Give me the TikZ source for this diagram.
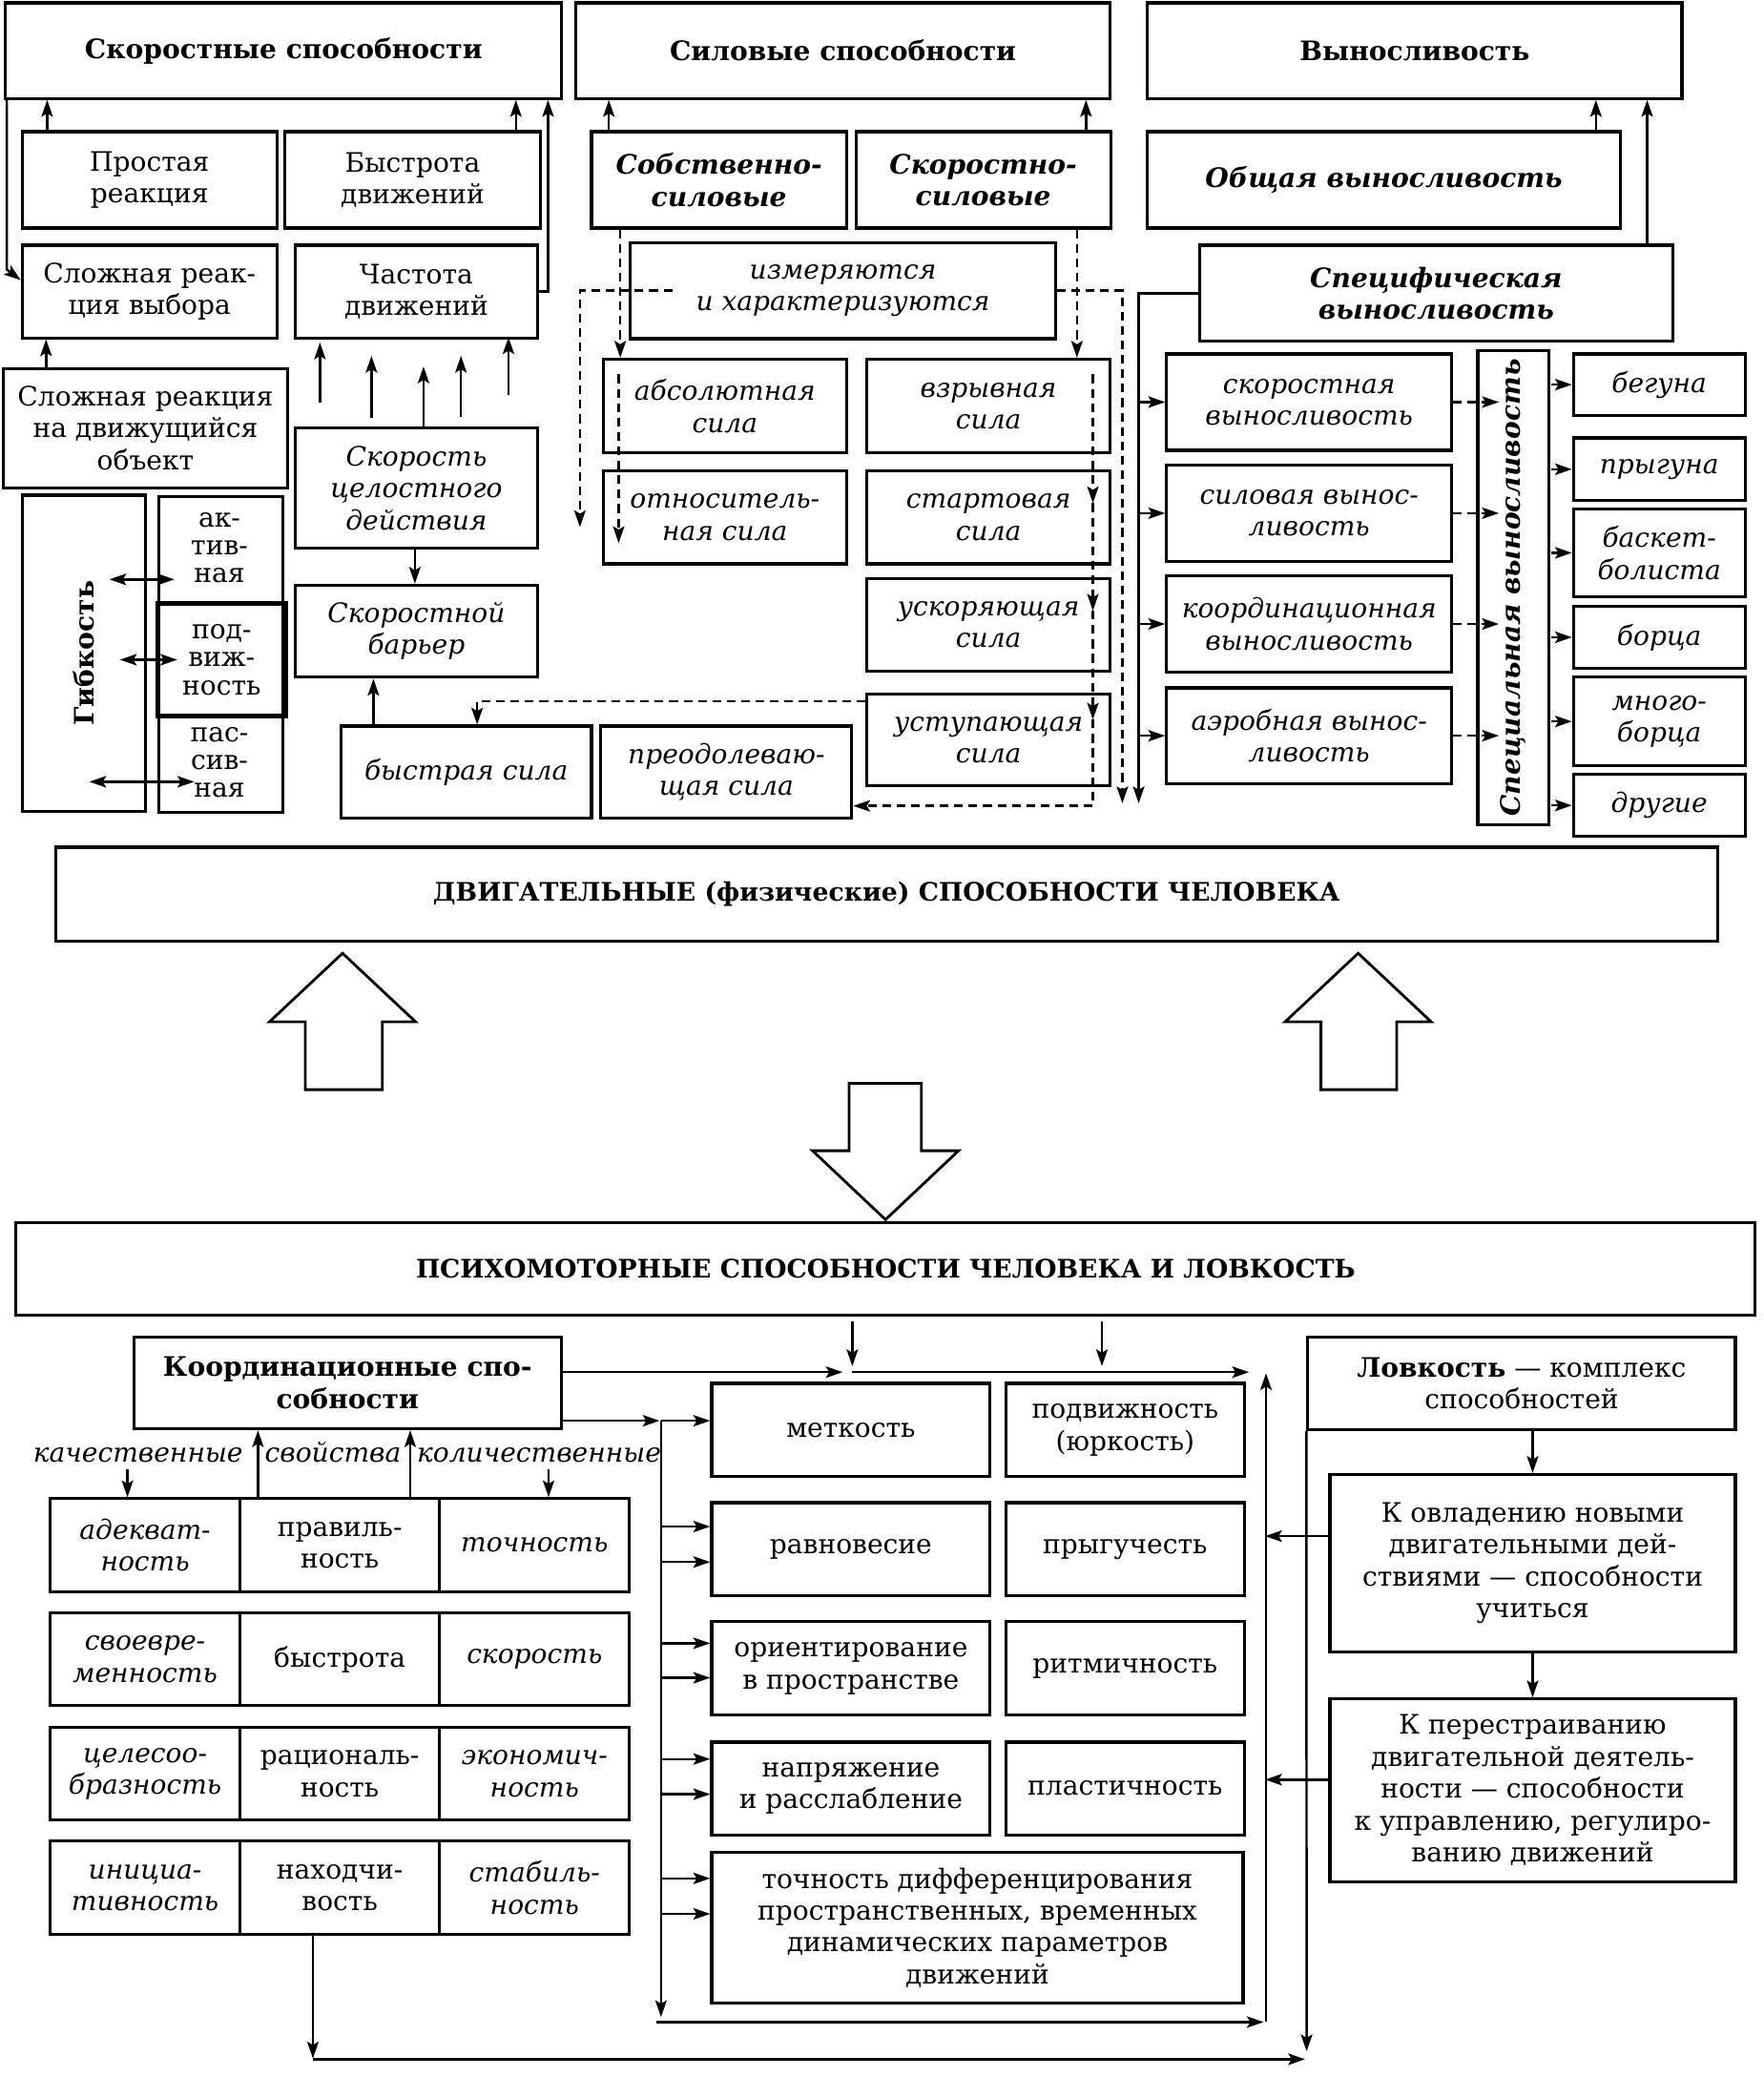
\documentclass[tikz,border=0pt]{standalone}
\usepackage{fontspec}
\setmainfont{DejaVu Serif}
\usetikzlibrary{arrows.meta}
\newlength{\px}
\setlength{\px}{0.013916cm}
\tikzset{
  >={Stealth[length=5pt,width=3.4pt,inset=1pt]},
  box/.style={draw, line width=0.9pt, inner sep=1pt, align=center, anchor=north west},
  con/.style={line width=0.7pt, ->},
  dcon/.style={con, dash pattern=on 2.6pt off 1.7pt},
  it/.style={font=\itshape},
  bf/.style={font=\bfseries},
  bi/.style={font=\bfseries\itshape},
  tight/.style={font=\fontsize{8}{8.3}\selectfont},
  caps/.style={font=\fontsize{7.6}{8.5}\selectfont\bfseries}
}
\begin{document}
\fontsize{8}{9.5}\selectfont
\begin{tikzpicture}[x=0.013916cm, y=-0.013916cm]
\useasboundingbox (0,0) rectangle (1328,1564.4);

\node[box, bf, minimum width=419\px, minimum height=72\px] (skor) at (3,1) {Скоростные способности};
\node[box, bf, minimum width=402.6\px, minimum height=72\px] (silov) at (432.5,1) {Силовые способности};
\node[box, bf, minimum width=402.6\px, minimum height=72\px] (vynos) at (863.2,1) {Выносливость};

\node[box, minimum width=191.8\px, minimum height=72.6\px] (prost) at (15.6,98) {Простая\\реакция};
\node[box, minimum width=192.1\px, minimum height=72.6\px] (bystr) at (213.6,98) {Быстрота\\движений};
\node[box, bi, minimum width=192.1\px, minimum height=72.6\px] (sobstv) at (444.4,98) {Собственно-\\силовые};
\node[box, bi, minimum width=191.8\px, minimum height=72.6\px] (skorsil) at (643.6,98) {Скоростно-\\силовые};
\node[box, bi, minimum width=356.1\px, minimum height=72.6\px] (obsh) at (863.2,98) {Общая выносливость};

\node[box, minimum width=191.8\px, minimum height=69.8\px] (vybor) at (15.6,183.5) {Сложная реак-\\ция выбора};
\node[box, minimum width=183\px, minimum height=69.8\px] (chast) at (221,183.5) {Частота\\движений};
\node[box, it, minimum width=320.2\px, minimum height=72.5\px] (izm) at (473.7,181.5) {измеряются\\и характеризуются};
\node[box, bi, minimum width=356.4\px, minimum height=72.5\px] (specif) at (902.4,183.5) {Специфическая\\выносливость};

\node[box, minimum width=214\px, minimum height=89.9\px] (dvizh) at (1.4,276.3) {Сложная реакция\\на движущийся\\объект};
\node[box, it, minimum width=183\px, minimum height=90\px] (celost) at (221,321.4) {Скорость\\целостного\\действия};
\node[box, it, minimum width=183\px, minimum height=69.4\px] (barier) at (221,439.6) {Скоростной\\барьер};
\node[box, it, minimum width=188.7\px, minimum height=69.3\px] (bystrsila) at (255.7,545.7) {быстрая сила};
\node[box, it, minimum width=189\px, minimum height=69.3\px] (preod) at (451.5,545.7) {преодолеваю-\\щая сила};

\node[box, it, minimum width=183.3\px, minimum height=70.6\px] (absol) at (453.2,269.4) {абсолютная\\сила};
\node[box, it, minimum width=183.3\px, minimum height=69.8\px] (otnos) at (453.2,353.7) {относитель-\\ная сила};
\node[box, it, minimum width=183.3\px, minimum height=70.6\px] (vzryv) at (651.8,269.4) {взрывная\\сила};
\node[box, it, minimum width=183.3\px, minimum height=69.8\px] (start) at (651.8,353.7) {стартовая\\сила};
\node[box, it, minimum width=183.3\px, minimum height=69.3\px] (uskor) at (651.8,434.8) {ускоряющая\\сила};
\node[box, it, minimum width=183.3\px, minimum height=69.3\px] (ustup) at (651.8,521.5) {уступающая\\сила};

\node[box, bf, anchor=center, rotate=90, minimum width=238\px, minimum height=92.4\px] (gib) at (63.2,492) {Гибкость};
\node[box, minimum width=92.9\px, minimum height=238\px] (gcol) at (118.8,373) {};
\node[tight, align=center] (aktiv) at (165.3,412.7) {ак-\\тив-\\ная};
\node[box, tight, line width=1.5pt, minimum width=96\px, minimum height=85.1\px] (podv) at (117,452.5) {под-\\виж-\\ность};
\node[tight, align=center] (passiv) at (165.3,574.3) {пас-\\сив-\\ная};

\node[box, it, minimum width=214.7\px, minimum height=72.6\px] (skorv) at (877.6,265.4) {скоростная\\выносливость};
\node[box, it, minimum width=214.7\px, minimum height=72.2\px] (silv) at (877.6,349.3) {силовая вынос-\\ливость};
\node[box, it, minimum width=214.7\px, minimum height=72.3\px] (koorv) at (877.6,432.7) {координационная\\выносливость};
\node[box, it, minimum width=214.7\px, minimum height=72\px] (aerv) at (877.6,517) {аэробная вынос-\\ливость};
\node[box, bi, anchor=center, rotate=90, minimum width=356.8\px, minimum height=53.3\px] (specl) at (1139.7,442.6) {Специальная выносливость};

\node[box, it, minimum width=129.3\px, minimum height=46.3\px] (beg) at (1184,265.4) {бегуна};
\node[box, it, minimum width=129.3\px, minimum height=47.2\px] (pryg) at (1184,328.7) {прыгуна};
\node[box, it, minimum width=129.3\px, minimum height=66.5\px] (bask) at (1184,382) {баскет-\\болиста};
\node[box, it, minimum width=129.3\px, minimum height=46.3\px] (borc) at (1184,455.7) {борца};
\node[box, it, minimum width=129.3\px, minimum height=66.5\px] (mnog) at (1184,509) {много-\\борца};
\node[box, it, minimum width=129.3\px, minimum height=47\px] (drug) at (1184,582) {другие};

\node[box, caps, minimum width=1252\px, minimum height=71\px] (dvig) at (40.7,637) {ДВИГАТЕЛЬНЫЕ (физические) СПОСОБНОСТИ ЧЕЛОВЕКА};
\node[box, caps, minimum width=1310\px, minimum height=70\px] (psych) at (11,919.5) {ПСИХОМОТОРНЫЕ СПОСОБНОСТИ ЧЕЛОВЕКА И ЛОВКОСТЬ};

\draw[line width=0.8pt] (258,718) -- (313,769.6) -- (288,769.6) -- (288,820.7) -- (230,820.7) -- (230,769.6) -- (203,769.6) -- cycle;
\draw[line width=0.8pt] (1023,718) -- (1078,769.6) -- (1052,769.6) -- (1052,820.7) -- (995,820.7) -- (995,769.6) -- (968,769.6) -- cycle;
\draw[line width=0.8pt] (667,918.6) -- (722,866.7) -- (694,866.7) -- (694,816) -- (639.5,816) -- (639.5,866.7) -- (612,866.7) -- cycle;

\node[box, bf, minimum width=321.9\px, minimum height=69\px] (koord) at (99.7,1006) {Координационные спо-\\собности};
\node[it, anchor=base] (kach) at (104,1101) {качественные};
\node[it, anchor=base] (svoi) at (250.8,1101) {свойства};
\node[it, anchor=base] (kolich) at (406,1101) {количественные};

\node[box, it, minimum width=142.9\px, minimum height=70\px] (t11) at (36.7,1127.7) {адекват-\\ность};
\node[box, minimum width=150.4\px, minimum height=70\px] (t12) at (179.6,1127.7) {правиль-\\ность};
\node[box, it, minimum width=143\px, minimum height=70\px] (t13) at (330,1127.7) {точность};
\node[box, it, minimum width=142.9\px, minimum height=69.8\px] (t21) at (36.7,1213.8) {своевре-\\менность};
\node[box, minimum width=150.4\px, minimum height=69.8\px] (t22) at (179.6,1213.8) {быстрота};
\node[box, it, minimum width=143\px, minimum height=69.8\px] (t23) at (330,1213.8) {скорость};
\node[box, it, minimum width=142.9\px, minimum height=69.7\px] (t31) at (36.7,1300) {целесоо-\\бразность};
\node[box, minimum width=150.4\px, minimum height=69.7\px] (t32) at (179.6,1300) {рациональ-\\ность};
\node[box, it, minimum width=143\px, minimum height=69.7\px] (t33) at (330,1300) {экономич-\\ность};
\node[box, it, minimum width=142.9\px, minimum height=70.4\px] (t41) at (36.7,1385.5) {инициа-\\тивность};
\node[box, minimum width=150.4\px, minimum height=70.4\px] (t42) at (179.6,1385.5) {находчи-\\вость};
\node[box, it, minimum width=143\px, minimum height=70.4\px] (t43) at (330,1385.5) {стабиль-\\ность};

\node[box, minimum width=209.7\px, minimum height=70.2\px] (metk) at (534.9,1040.8) {меткость};
\node[box, minimum width=179.9\px, minimum height=70.2\px] (podvizh) at (756.4,1040.8) {подвижность\\(юркость)};
\node[box, minimum width=209.7\px, minimum height=70.4\px] (ravn) at (534.9,1130.6) {равновесие};
\node[box, minimum width=179.9\px, minimum height=70.4\px] (prygu) at (756.4,1130.6) {прыгучесть};
\node[box, minimum width=209.7\px, minimum height=70.4\px] (orient) at (534.9,1220.4) {ориентирование\\в пространстве};
\node[box, minimum width=179.9\px, minimum height=70.4\px] (ritm) at (756.4,1220.4) {ритмичность};
\node[box, minimum width=209.7\px, minimum height=70\px] (napr) at (534.9,1311) {напряжение\\и расслабление};
\node[box, minimum width=179.9\px, minimum height=70\px] (plast) at (756.4,1311) {пластичность};
\node[box, minimum width=400.3\px, minimum height=113.6\px] (tochn) at (534.9,1393.9) {точность дифференцирования\\пространственных, временных\\динамических параметров\\движений};

\node[box, minimum width=322\px, minimum height=69.5\px] (lovk) at (984,1006) {\textbf{Ловкость} — комплекс\\способностей};
\node[box, minimum width=305.4\px, minimum height=133.8\px] (ovlad) at (1000.6,1109.4) {К овладению новыми\\двигательными дей-\\ствиями — способности\\учиться};
\node[box, minimum width=305.4\px, minimum height=137.6\px] (perestr) at (1000.6,1278.4) {К перестраиванию\\двигательной деятель-\\ности — способности\\к управлению, регулиро-\\ванию движений};

\draw[con] (35.5,0 |- prost.north) -- (35.5,0 |- skor.south);
\draw[con] (388.6,0 |- bystr.north) -- (388.6,0 |- skor.south);
\draw[con] (chast.east) -| (412.8,0 |- skor.south);
\draw[con] (5.1,0 |- skor.south) -- (5.1,203) -- (vybor.west |- 0,211);
\draw[con] (34.7,0 |- dvizh.north) -- (34.7,0 |- vybor.south);
\foreach \x/\a/\b in {241/303/258, 279.8/314.6/268, 347.2/313.8/268, 383/297.6/254}
  \draw[con] (\x,\a) -- (\x,\b);
\draw[con] (319,0 |- celost.north) -- (319,276);
\draw[con] (312.5,0 |- celost.south) -- (312.5,0 |- barier.north);
\draw[con] (281.3,0 |- bystrsila.north) -- (281.3,0 |- barier.south);
\draw[dcon] (ustup.west |- 0,528.3) -| (359.4,0 |- bystrsila.north);
\draw[con, <->] (82.4,436.4) -- (131.3,436.4);
\draw[con, <->] (90.3,496.9) -- (133.5,496.9);
\draw[con, <->] (67.3,588.8) -- (146.3,588.8);

\draw[con] (458.6,0 |- sobstv.north) -- (458.6,0 |- silov.south);
\draw[con] (818,0 |- skorsil.north) -- (818,0 |- silov.south);
\draw[dcon] (467.2,0 |- sobstv.south) -- (467.2,0 |- absol.north);
\draw[dcon] (811.2,0 |- skorsil.south) -- (811.2,0 |- vzryv.north);
\draw[dcon] ([xshift=32.7\px]izm.west) -| (436.8,397);
\draw[dcon] (izm.east) -| (845.4,605);
\draw[dcon] (466,282) -- (466,409);
\draw[dcon] (823.2,282) -- (823.2,379);
\draw[dcon] (823.2,379) -- (823.2,460);
\draw[dcon] (823.2,460) -- (823.2,542);
\draw[dcon] (823.2,542) |- (preod.east |- 0,607);

\draw[con] (1202.1,0 |- obsh.north) -- (1202.1,0 |- vynos.south);
\draw[con] (1240.7,0 |- specif.north) -- (1240.7,0 |- vynos.south);
\draw[con] (specif.west |- 0,221) -| (857.7,605);
\foreach \n in {skorv,silv,koorv,aerv} {
  \draw[con] (857.7,0 |- \n.west) -- (\n.west);
  \draw[dcon] (\n.east) -- (1129,0 |- \n.east);
}
\foreach \n in {beg,pryg,bask,borc,mnog,drug}
  \draw[con] (1168.5,0 |- \n.west) -- (\n.west);

\draw[con] (96,1106.9) -- (96,0 |- t11.north);
\draw[con] (194.3,0 |- t12.north) -- (194.3,0 |- koord.south);
\draw[con] (309,0 |- t12.north) -- (309,0 |- koord.south);
\draw[con] (413.2,1106.9) -- (413.2,0 |- t13.north);

\draw[con] (642,995) -- (642,1029);
\draw[con] (830,995) -- (830,1029);
\draw[con] (koord.east |- 0,1033.5) -- (634.7,1033.5);
\draw[con] (642,1033.5) -- (940.8,1033.5);
\draw[con] (koord.east |- 0,1070.1) -- (496.8,1070.1);
\draw[con] (497.9,1070.1) -- (497.9,1519.3);
\draw[con] (497.9,1070.1) -- (metk.west |- 0,1070.1);
\foreach \y in {1149.8,1176.5,1237.7,1263.7,1324.9,1351.4,1414.8,1441.5}
  \draw[con] (497.9,\y) -- (metk.west |- 0,\y);
\draw[con] (494.2,1523) -- (951.8,1523);
\draw[con] (953.6,1523) -- (953.6,1034.3);

\draw[con] (ovlad.north |- lovk.south) -- (ovlad.north);
\draw[con] (ovlad.south) -- (perestr.north);
\draw[con] (ovlad.west |- 0,1157) -- (952.9,1157);
\draw[con] (perestr.west |- 0,1340.4) -- (952.9,1340.4);
\draw[con] (lovk.south west) -- (984.2,1545);
\draw[con] (235.7,0 |- t42.south) -- (235.7,1550.4);
\draw[con] (235.7,1551) -- (983,1551);
\end{tikzpicture}
\end{document}
